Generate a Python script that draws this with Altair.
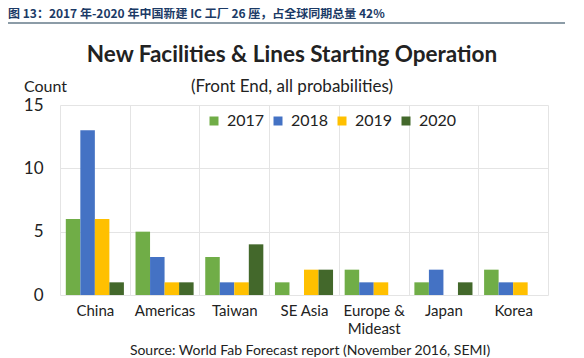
import altair as alt
import pandas as pd

regions = ["China", "Americas", "Taiwan", "SE Asia", "Europe & Mideast", "Japan", "Korea"]
years = ["2017", "2018", "2019", "2020"]
v2017 = [6, 5, 3, 1, 2, 1, 2]
v2018 = [13, 3, 1, 0, 1, 2, 1]
v2019 = [6, 1, 1, 2, 1, 0, 1]
v2020 = [1, 1, 4, 2, 0, 1, 0]
colors = ["#70AD47", "#4472C4", "#FFC000", "#43682B"]
y_ticks = [0, 5, 10, 15]

caption = "图 13：2017 年-2020 年中国新建 IC 工厂 26 座，占全球同期总量 42%"
title = "New Facilities & Lines Starting Operation"
subtitle = "(Front End, all probabilities)"
source = "Source: World Fab Forecast report (November 2016, SEMI)"

rows = []
for yr, vals in zip(years, [v2017, v2018, v2019, v2020]):
    for r, v in zip(regions, vals):
        rows.append({"region": r, "year": yr, "count": v})
df = pd.DataFrame(rows)

FONT = "Lato"
W, H = 488, 190

bars = alt.Chart(df).mark_bar().encode(
    x=alt.X("region:N", sort=regions,
            scale=alt.Scale(paddingInner=0, paddingOuter=0),
            axis=alt.Axis(title=None, labelAngle=0, tickBand="extent", grid=True,
                          ticks=False, domain=False, labelFontSize=15, labelFont=FONT,
                          labelColor="#222222", labelPadding=8, labelLineHeight=18,
                          gridColor="#e4e4e4",
                          labelExpr="datum.value == 'Europe & Mideast' ? ['Europe &', 'Mideast'] : datum.value")),
    xOffset=alt.XOffset("year:N", sort=years,
                        scale=alt.Scale(paddingInner=0, paddingOuter=0.4)),
    y=alt.Y("count:Q", scale=alt.Scale(domain=[0, 15]),
            axis=alt.Axis(title=None, values=y_ticks, grid=True, ticks=False, domain=False,
                          labelFontSize=17, labelFont=FONT, labelColor="#222222",
                          labelPadding=17, gridColor="#e4e4e4")),
    color=alt.Color("year:N", sort=years,
                    scale=alt.Scale(domain=years, range=colors),
                    legend=alt.Legend(title=None, orient="none", direction="horizontal",
                                      legendX=146, legendY=8, symbolType="square",
                                      symbolSize=81, symbolStrokeWidth=0, labelFontSize=16,
                                      labelFont=FONT, labelColor="#222222",
                                      columnPadding=5, labelOffset=5)),
)

def txt(t, x, y, size, weight="normal", align="center", color="#222222", font=FONT):
    return alt.Chart(pd.DataFrame({"t": [t]})).mark_text(
        fontSize=size, fontWeight=weight, align=align, baseline="middle",
        color=color, font=font
    ).encode(text="t:N", x=alt.value(x), y=alt.value(y))

cap = txt(caption, -52, -91, 12, "bold", "left", "#1b3a66", "Noto Sans CJK SC")
line = alt.Chart(pd.DataFrame({"a": [0]})).mark_rule(color="#1b3a50", strokeWidth=1.2).encode(
    x=alt.value(-52), x2=alt.value(505), y=alt.value(-82))
ttl = txt(title, 232, -50, 22.5, "bold")
sub = txt(subtitle, 232, -18, 17)
cnt = txt("Count", -36, -18, 16, align="left")
src = txt(source, 250, 246, 14)

chart = alt.layer(bars, cap, line, ttl, sub, cnt, src).properties(
    width=W, height=H,
    autosize=alt.AutoSizeParams(type="none"),
    padding={"left": 52, "top": 97, "right": 28, "bottom": 62},
    background="white",
).configure_view(stroke=None)

chart.save("out.html", embed_options={"renderer": "svg", "actions": False})
